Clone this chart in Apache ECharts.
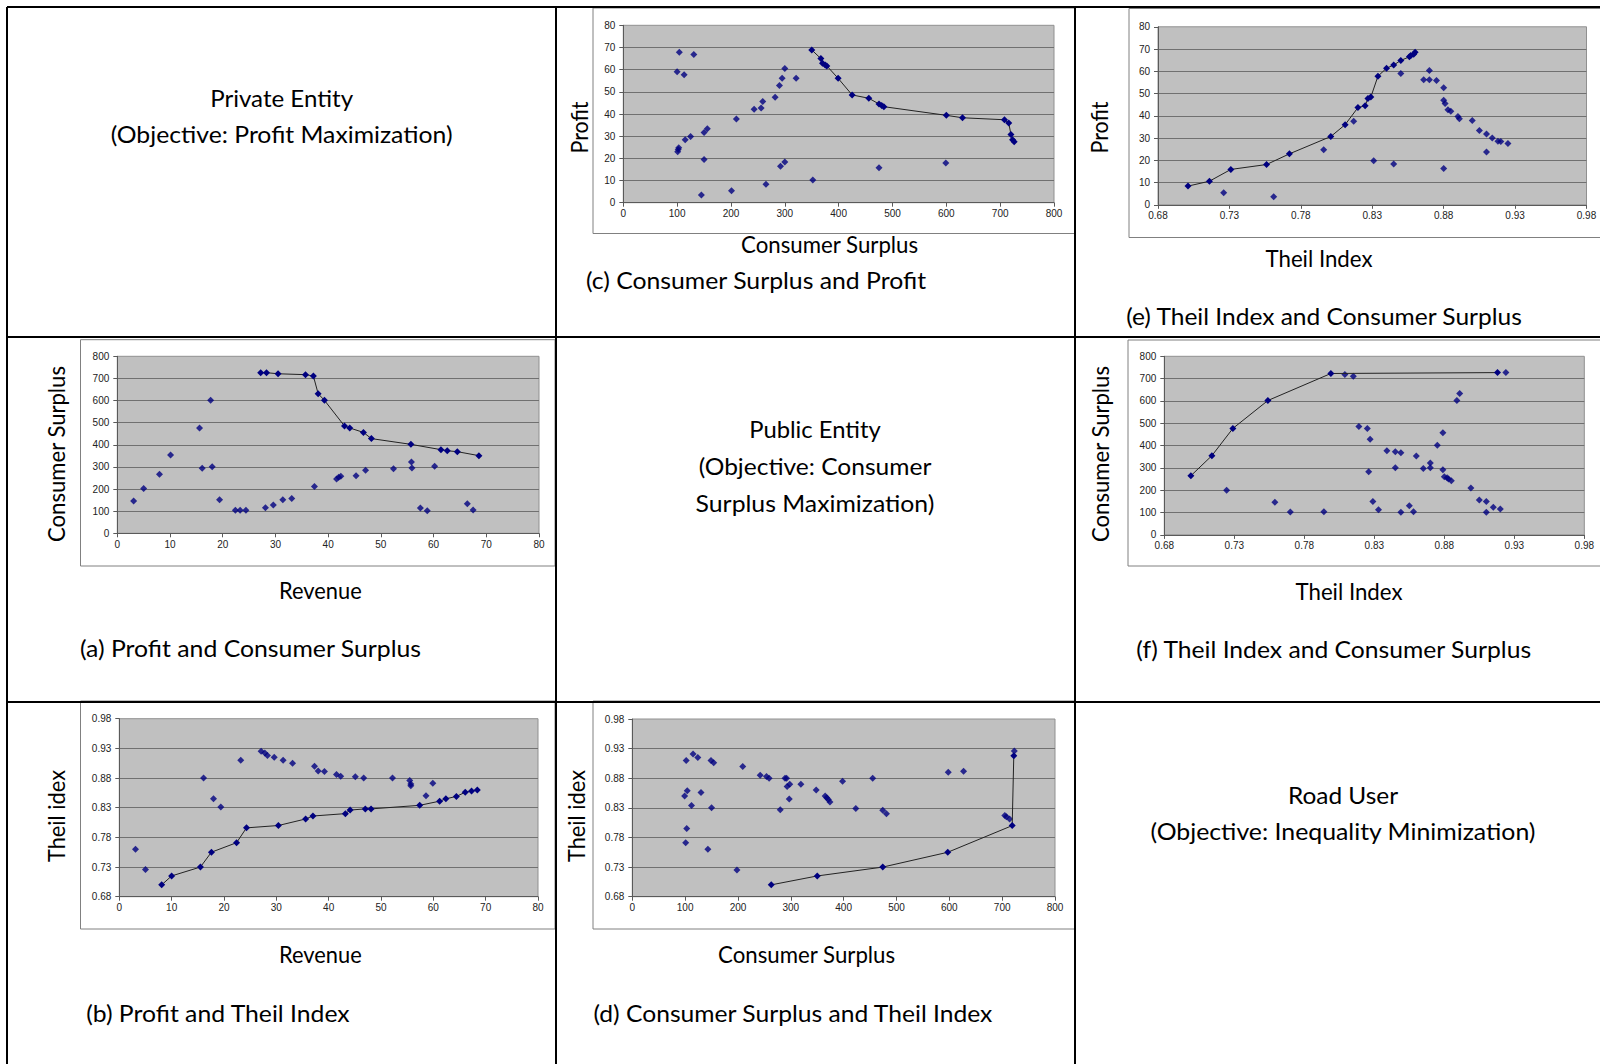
<!DOCTYPE html>
<html><head><meta charset="utf-8">
<script src="https://cdn.jsdelivr.net/npm/echarts@6/dist/echarts.min.js"></script>
<style>html,body{margin:0;padding:0;background:#fff;}#c{width:1600px;height:1064px;}</style>
</head><body><div id="c"></div>
<script>
// ---------- DATA ----------
// (a) Revenue vs Consumer Surplus
const aFrontRevenue = [27.2, 28.3, 30.5, 35.7, 37.2, 38.1, 39.3, 43.1, 44.1, 46.7, 48.2, 55.7, 61.4, 62.6, 64.5, 68.6];
const aFrontCS = [726, 726, 721, 717, 711, 631, 601, 485, 476, 456, 428, 402, 378, 373, 369, 351];
const aOtherRevenue = [3.1, 5.0, 8.0, 10.1, 15.6, 16.1, 17.7, 18.0, 19.4, 22.4, 23.3, 24.4, 28.1, 29.6, 31.4, 33.1, 37.4, 41.6, 42.0, 42.4, 45.3, 47.1, 52.4, 55.8, 55.9, 57.5, 58.8, 60.2, 66.4, 67.5];
const aOtherCS = [146, 202, 267, 354, 476, 294, 601, 301, 152, 104, 104, 104, 116, 128, 152, 157, 212, 245, 253, 258, 260, 285, 292, 322, 295, 114, 102, 303, 133, 105];
// (b) Revenue vs Theil index
const bFrontRevenue = [8.1, 10.0, 15.5, 17.6, 22.4, 24.3, 30.4, 35.6, 37.0, 43.2, 44.1, 47.0, 48.1, 57.4, 61.2, 62.4, 64.4, 66.1, 67.3, 68.4];
const bFrontTheil = [0.700, 0.715, 0.730, 0.755, 0.771, 0.796, 0.800, 0.811, 0.816, 0.820, 0.826, 0.828, 0.828, 0.834, 0.841, 0.845, 0.849, 0.856, 0.858, 0.860];
const bOtherRevenue = [3.1, 5.0, 16.1, 18.0, 19.4, 23.2, 27.1, 27.8, 28.3, 29.6, 31.3, 33.1, 37.3, 38.0, 39.2, 41.5, 42.3, 45.1, 46.7, 52.2, 55.5, 55.7, 55.7, 59.9, 58.6];
const bOtherTheil = [0.760, 0.726, 0.880, 0.845, 0.831, 0.910, 0.925, 0.922, 0.918, 0.915, 0.910, 0.905, 0.900, 0.892, 0.891, 0.886, 0.883, 0.882, 0.880, 0.880, 0.876, 0.870, 0.867, 0.871, 0.850];
// (c) Consumer Surplus vs Profit
const cFrontCS = [350, 367, 370, 375, 378, 399, 425, 456, 475, 480, 484, 600, 630, 708, 716, 720, 723, 726];
const cFrontProfit = [68.9, 65.0, 62.9, 62.1, 61.7, 56.1, 48.6, 47.1, 44.5, 43.8, 43.3, 39.4, 38.3, 37.4, 35.9, 30.8, 28.4, 27.5];
const cOtherCS = [100, 104, 131, 113, 101, 102, 103, 115, 125, 150, 156, 150, 145, 201, 210, 243, 256, 259, 282, 290, 295, 300, 321, 265, 292, 300, 352, 475, 599];
const cOtherProfit = [59.1, 67.8, 66.8, 57.7, 23.0, 24.0, 24.8, 28.4, 29.8, 31.7, 33.4, 19.5, 3.5, 5.4, 37.7, 42.1, 42.7, 45.6, 47.5, 52.8, 56.1, 60.5, 56.1, 8.3, 16.4, 18.3, 10.2, 15.8, 17.9];
// (d) Consumer Surplus vs Theil index
const dFrontCS = [263, 350, 474, 597, 719, 722];
const dFrontTheil = [0.700, 0.715, 0.730, 0.755, 0.800, 0.918];
const dOtherCS = [102, 115, 124, 149, 154, 209, 242, 254, 259, 289, 292, 293, 298, 297, 319, 280, 348, 365, 368, 371, 374, 398, 423, 455, 474, 481, 598, 627, 705, 708, 714, 99, 104, 112, 130, 150, 103, 101, 143, 198, 723];
const dOtherTheil = [0.910, 0.921, 0.915, 0.910, 0.906, 0.900, 0.885, 0.883, 0.880, 0.880, 0.880, 0.866, 0.870, 0.845, 0.870, 0.827, 0.860, 0.850, 0.847, 0.844, 0.840, 0.875, 0.829, 0.880, 0.826, 0.820, 0.890, 0.892, 0.817, 0.815, 0.811, 0.850, 0.859, 0.834, 0.856, 0.830, 0.795, 0.771, 0.760, 0.725, 0.926];
// (e) Theil index vs Profit
const eFrontTheil = [0.701, 0.716, 0.731, 0.756, 0.772, 0.801, 0.811, 0.820, 0.825, 0.827, 0.829, 0.834, 0.840, 0.845, 0.850, 0.856, 0.857, 0.859, 0.860];
const eFrontProfit = [8.4, 10.6, 15.9, 18.1, 22.9, 30.7, 36.0, 43.7, 44.5, 47.8, 48.4, 57.8, 61.4, 62.8, 64.9, 66.5, 67.1, 67.7, 68.6];
const eOtherTheil = [0.726, 0.761, 0.796, 0.817, 0.831, 0.845, 0.850, 0.866, 0.870, 0.870, 0.875, 0.880, 0.880, 0.881, 0.883, 0.885, 0.890, 0.891, 0.900, 0.905, 0.910, 0.910, 0.914, 0.918, 0.920, 0.925, 0.880];
const eOtherProfit = [5.4, 3.6, 24.7, 37.5, 19.8, 18.3, 59.0, 56.2, 56.2, 60.4, 55.9, 52.6, 47.0, 45.5, 42.7, 42.1, 39.7, 38.7, 37.9, 33.4, 31.8, 23.7, 30.0, 28.6, 28.5, 27.6, 16.3];
// (f) Theil index vs Consumer Surplus
const fFrontTheil = [0.699, 0.714, 0.729, 0.754, 0.799, 0.918];
const fFrontCS = [265, 355, 477, 602, 723, 727];
const fOtherTheil = [0.809, 0.815, 0.924, 0.7245, 0.759, 0.770, 0.794, 0.819, 0.825, 0.827, 0.826, 0.829, 0.833, 0.839, 0.845, 0.845, 0.849, 0.849, 0.855, 0.858, 0.860, 0.865, 0.870, 0.870, 0.875, 0.879, 0.879, 0.880, 0.882, 0.883, 0.885, 0.889, 0.891, 0.899, 0.905, 0.910, 0.910, 0.915, 0.920];
const fOtherCS = [718, 711, 727, 200, 146, 103, 104, 486, 477, 428, 283, 150, 113, 377, 373, 301, 368, 101, 131, 104, 353, 297, 322, 301, 402, 457, 292, 261, 256, 250, 243, 602, 633, 210, 156, 150, 101, 124, 116];

// Axis ranges / tick settings
const revenueAxis = {min: 0, max: 80, interval: 10, dec: 0};
const csAxis = {min: 0, max: 800, interval: 100, dec: 0};
const profitAxis = {min: 0, max: 80, interval: 10, dec: 0};
const theilAxis = {min: 0.68, max: 0.98, interval: 0.05, dec: 2};

// Texts: [text, centerX, centerY, targetWidth]
const cellTexts = [
  ['Private Entity', 281.6, 98, 142.9], ['(Objective: Profit Maximization)', 281.6, 134.7, 341.8],
  ['Public Entity', 815, 429.6, 131.6], ['(Objective: Consumer', 815, 466.3, 232.7], ['Surplus Maximization)', 815, 503, 238.8],
  ['Road User', 1343, 795, 110.2], ['(Objective: Inequality Minimization)', 1343, 831.6, 385.7]
];

// ---------- LAYOUT ----------
const charts = [
  {k:'a', grid:{left:117.3, top:356.3, width:421.7, height:177}, box:[80.5,339.7,555,566],
   x:revenueAxis, y:csAxis, fx:aFrontRevenue, fy:aFrontCS, ox:aOtherRevenue, oy:aOtherCS,
   ytitle:['Consumer Surplus',56,454,176.5], xtitle:['Revenue',320.4,590.8,82.7], cap:['(a) Profit and Consumer Surplus',250.5,649,341.8]},
  {k:'b', grid:{left:119.3, top:718.7, width:418.7, height:178}, box:[80.5,701,555,929],
   x:revenueAxis, y:theilAxis, fx:bFrontRevenue, fy:bFrontTheil, ox:bOtherRevenue, oy:bOtherTheil,
   ytitle:['Theil idex',56,816,92], xtitle:['Revenue',320.4,954,82.7], cap:['(b) Profit and Theil Index',217.9,1013,264.3]},
  {k:'c', grid:{left:623.3, top:25.3, width:430.7, height:177.4}, box:[593,8,1075,233.5],
   x:csAxis, y:profitAxis, fx:cFrontCS, fy:cFrontProfit, ox:cOtherCS, oy:cOtherProfit,
   ytitle:['Profit',579.6,127.5,52], xtitle:['Consumer Surplus',829.6,244,177.6], cap:['(c) Consumer Surplus and Profit',756,280.6,340.8]},
  {k:'d', grid:{left:632.3, top:719, width:422.7, height:177.7}, box:[593,701,1075,929],
   x:csAxis, y:theilAxis, fx:dFrontCS, fy:dFrontTheil, ox:dOtherCS, oy:dOtherTheil,
   ytitle:['Theil idex',576.5,816,92], xtitle:['Consumer Surplus',806.6,954,177.6], cap:['(d) Consumer Surplus and Theil Index',792.9,1013,400]},
  {k:'e', grid:{left:1158, top:26.8, width:428.5, height:178}, box:[1129,8.5,1605,237.5],
   x:theilAxis, y:profitAxis, fx:eFrontTheil, fy:eFrontProfit, ox:eOtherTheil, oy:eOtherProfit,
   ytitle:['Profit',1099,127.5,52], xtitle:['Theil Index',1319,258,107], cap:['(e) Theil Index and Consumer Surplus',1324,316,397]},
  {k:'f', grid:{left:1164.3, top:356.3, width:420, height:178.6}, box:[1128,340,1605,566],
   x:theilAxis, y:csAxis, fx:fFrontTheil, fy:fFrontCS, ox:fOtherTheil, oy:fOtherCS,
   ytitle:['Consumer Surplus',1100,454,176.5], xtitle:['Theil Index',1349,591,107], cap:['(f) Theil Index and Consumer Surplus',1333.7,649,396]}
];

const cellLines = [[7,7,7,1064],[556,7,556,1064],[1075,7,1075,1064],[7,7,1600,7],[7,337,1600,337],[7,702,1600,702]];

// ---------- STYLE ----------
const BIG_FAMILY = 'Lato';
const mctx = document.createElement('canvas').getContext('2d');
function measure(text, size){
  try{ mctx.font = size + 'px ' + BIG_FAMILY; return mctx.measureText(text).width; }catch(e){ return 0; }
}
const bigSize = (function(){ const w = measure('Consumer Surplus', 100); return w > 0 ? 100 * 177.6 / w : 22; })();
function sx(text, target){ const w = measure(text, bigSize); return (w > 0 && target) ? target / w : 1; }

const AX = '#5a5a5a';
const GRIDC = '#707070';
const MARK = '#000080';

function axis(gi, r, isY){
  return {
    type:'value', gridIndex:gi, min:r.min, max:r.max, interval:r.interval,
    axisLine:{show:true, onZero:false, lineStyle:{color:AX, width:1}},
    axisTick:{show:true, inside:false, length:4, lineStyle:{color:AX, width:1}},
    axisLabel:{show:true, showMinLabel:true, showMaxLabel:true, fontFamily:'Liberation Sans, Arial, sans-serif', fontSize:10, color:'#222',
      margin: isY ? 8 : 6, formatter: v => Number(v).toFixed(r.dec)},
    splitLine:{show:isY, showMaxLine:false, lineStyle:{color:GRIDC, width:1}}
  };
}

function txt(t, x, y, target, rot){
  return {type:'text', z:20, x:x, y:y, rotation: rot||0, scaleX: sx(t, target), scaleY: 1, silent:true,
    style:{text:t, fill:'#000', fontSize:bigSize, fontFamily:BIG_FAMILY, textAlign:'center', textVerticalAlign:'middle', align:'center', verticalAlign:'middle'}};
}

const grid = [], xAxis = [], yAxis = [], series = [], graphic = [];
charts.forEach((ch, i) => {
  grid.push(Object.assign({show:true, backgroundColor:'#c0c0c0', borderColor:'#909090', borderWidth:1, containLabel:false}, ch.grid));
  xAxis.push(axis(i, ch.x, false));
  yAxis.push(axis(i, ch.y, true));
  series.push({type:'scatter', xAxisIndex:i, yAxisIndex:i, symbol:'diamond', symbolSize:[7,7],
    itemStyle:{color:MARK}, data: ch.ox.map((v,j)=>[v, ch.oy[j]]), z:3});
  series.push({type:'line', xAxisIndex:i, yAxisIndex:i, symbol:'diamond', symbolSize:[7,7], showSymbol:true,
    itemStyle:{color:MARK}, lineStyle:{color:'#222', width:1}, data: ch.fx.map((v,j)=>[v, ch.fy[j]]), z:4});
  const b = ch.box;
  graphic.push({type:'rect', z:-10, silent:true, shape:{x:b[0], y:b[1], width:b[2]-b[0], height:b[3]-b[1]},
    style:{fill:'#fff', stroke:'#808080', lineWidth:1}});
  graphic.push(txt(ch.ytitle[0], ch.ytitle[1], ch.ytitle[2], ch.ytitle[3], Math.PI/2));
  graphic.push(txt(ch.xtitle[0], ch.xtitle[1], ch.xtitle[2], ch.xtitle[3]));
  graphic.push(txt(ch.cap[0], ch.cap[1], ch.cap[2], ch.cap[3]));
});
cellTexts.forEach(t => graphic.push(txt(t[0], t[1], t[2], t[3])));
cellLines.forEach(l => graphic.push({type:'line', z:30, silent:true, shape:{x1:l[0], y1:l[1], x2:l[2], y2:l[3]},
  style:{stroke:'#000', lineWidth:2}}));

const chart = echarts.init(document.getElementById('c'), null, {renderer:'svg', width:1600, height:1064});
chart.setOption({
  animation:false,
  backgroundColor:'#fff',
  grid, xAxis, yAxis, series, graphic
});
</script>
</body></html>
